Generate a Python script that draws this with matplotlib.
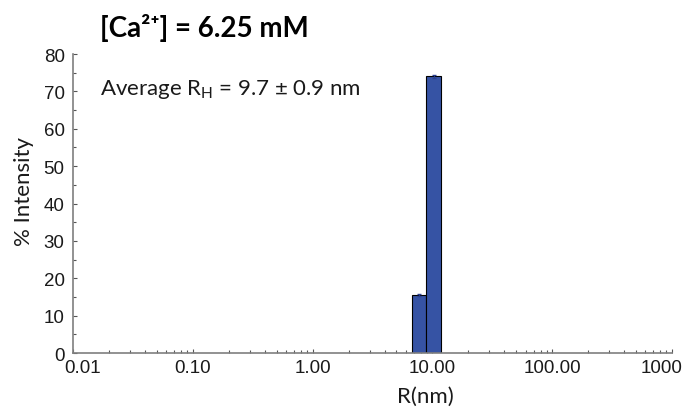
import numpy as np
import matplotlib
matplotlib.use('Agg')
from matplotlib import pyplot as plt
import matplotlib.transforms as mtransforms
from matplotlib.ticker import FixedLocator, FixedFormatter, LogLocator, MultipleLocator

# size distribution (DLS), bins in nm
bin_edges = [6.7, 8.9, 11.9]
intensity = [15.5, 74.0]
intensity_err = [0.3, 0.3]

x_ticks = [0.01, 0.1, 1, 10, 100, 1000]
x_tick_labels = ['0.01', '0.10', '1.00', '10.00', '100.00', '1000']

title = '[Ca²⁺] = 6.25 mM'
note = 'Average R$_\\mathregular{H}$ = 9.7 ± 0.9 nm'

plt.rcParams['mathtext.fontset'] = 'custom'
plt.rcParams['mathtext.rm'] = 'Lato'

fig = plt.figure(figsize=(6.87, 4.14), dpi=100)
ax = fig.add_axes([0.1063, 0.1449, 0.8717, 0.7221])

edges = np.array(bin_edges)
widths = np.diff(edges)
centers = np.sqrt(edges[:-1] * edges[1:])
ax.bar(edges[:-1], intensity, width=widths, align='edge',
       color='#3653a4', edgecolor='black', linewidth=0.8, zorder=2)
ax.errorbar(centers, intensity, yerr=intensity_err, fmt='none',
            ecolor='#2a3f8f', elinewidth=0.6, capsize=1.5, zorder=3)

ax.set_xscale('log')
ax.set_xlim(0.01, 1000)
ax.set_ylim(0, 80)

ax.xaxis.set_major_locator(FixedLocator(x_ticks))
ax.xaxis.set_major_formatter(FixedFormatter(x_tick_labels))
ax.xaxis.set_minor_locator(LogLocator(base=10, subs=np.arange(2, 10)))
ax.yaxis.set_major_locator(MultipleLocator(10))
ax.yaxis.set_minor_locator(MultipleLocator(5))

for side in ['top', 'right']:
    ax.spines[side].set_visible(False)
for side in ['left', 'bottom']:
    ax.spines[side].set_color('#7f7f7f')
    ax.spines[side].set_linewidth(1.2)

ax.tick_params(axis='both', which='both', direction='in', color='#555555',
               labelsize=13.5, labelcolor='#1a1a1a')
ax.tick_params(axis='both', which='major', length=3, width=0.8)
ax.tick_params(axis='both', which='minor', length=2, width=0.8)
ax.tick_params(axis='x', pad=4)
ax.tick_params(axis='y', pad=6)
for lab in ax.get_xticklabels() + ax.get_yticklabels():
    lab.set_fontfamily('Liberation Sans')

# nudge the end labels so they don't collide with the "0" / figure edge
fig.canvas.draw()
xlabs = ax.get_xticklabels()
xlabs[0].set_transform(xlabs[0].get_transform() +
                       mtransforms.ScaledTranslation(0.10, 0, fig.dpi_scale_trans))
xlabs[-1].set_transform(xlabs[-1].get_transform() +
                        mtransforms.ScaledTranslation(-0.10, 0, fig.dpi_scale_trans))
ylabs = ax.get_yticklabels()
ylabs[0].set_transform(ylabs[0].get_transform() +
                       mtransforms.ScaledTranslation(0, -0.04, fig.dpi_scale_trans))

ax.set_xlabel('R(nm)', fontsize=16, family='Lato', color='#1a1a1a', va='center')
ax.xaxis.set_label_coords(0.589, -0.144)
ax.set_ylabel('% Intensity', fontsize=16, family='Lato', color='#1a1a1a', va='center')
ax.yaxis.set_label_coords(-0.082, 0.545)

fig.text(0.146, 0.932, title, fontsize=20, fontweight='bold',
         family=['Lato', 'DejaVu Sans'], va='center', ha='left', color='black')
fig.text(0.146, 0.783, note, fontsize=16, family='Lato',
         va='center', ha='left', color='#1a1a1a')

fig.savefig('out.png', dpi=100)
